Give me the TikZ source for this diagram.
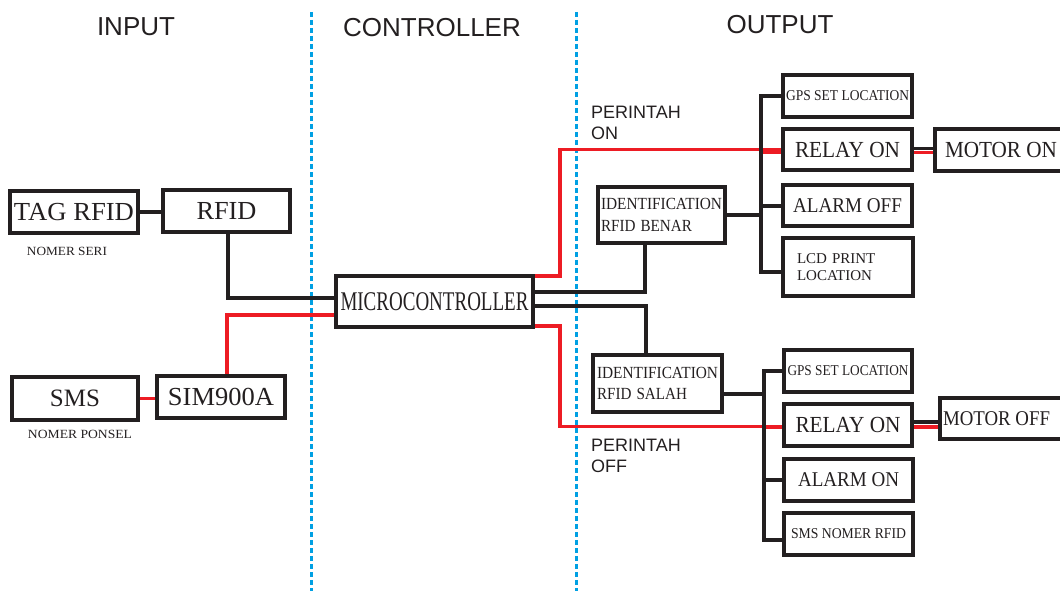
\documentclass[tikz,border=0pt]{standalone}
\usepackage{fontspec}
\setmainfont{Liberation Serif}
\setsansfont{Liberation Sans}
\usetikzlibrary{calc}

\definecolor{ink}{HTML}{231F20}
\definecolor{wirered}{HTML}{ED1C24}
\definecolor{divider}{HTML}{00A0E3}

% horizontally squeeze a label to a given width (pt), keeping its height
\newcommand{\sq}[2]{\resizebox{#1pt}{\height}{#2}}
\newcommand{\fs}[1]{\fontsize{#1}{#1}\selectfont}

\begin{document}
\begin{tikzpicture}[x=1pt,y=-1pt,
  blk/.style={draw=ink, line width=4pt, inner sep=0pt, text=ink, font=\fs{26}},
  wire/.style={draw=ink, line width=4pt},
  hot/.style={draw=wirered, line width=3.5pt},
  divline/.style={draw=divider, line width=3pt, dash pattern=on 5pt off 3pt},
  head/.style={font=\sffamily\fs{26}, text=ink, inner sep=0pt},
  note/.style={font=\fs{12.5}, text=ink, inner sep=0pt},
  cmd/.style={font=\sffamily\fontsize{18}{21}\selectfont, text=ink, align=left, inner sep=0pt, anchor=west},
]
\useasboundingbox (0,0) rectangle (1060,591);
\clip (0,0) rectangle (1060,591);

% section dividers
\draw[divline] (311,12) -- (311,591);
\draw[divline] (576,12) -- (576,591);

% section headings
\node[head] (hin)  at (136,27) {INPUT};
\node[head] (hctl) at (432,28) {CONTROLLER};
\node[head] (hout) at (780,25) {OUTPUT};

% input side
\node[blk, minimum width=128pt, minimum height=42pt] (tag)  at (74,212)   {\sq{120}{TAG RFID}};
\node[blk, minimum width=127pt, minimum height=42pt] (rfid) at (226.5,211) {\sq{60}{RFID}};
\node[blk, minimum width=126pt, minimum height=43pt, font=\fs{25}] (sms) at (75,398.5) {\sq{50}{SMS}};
\node[blk, minimum width=128pt, minimum height=42pt] (sim)  at (221,397)   {\sq{106}{SIM900A}};
\node[note] (nseri)   at (67,251) {\sq{80}{NOMER SERI}};
\node[note] (nponsel) at (80,434) {\sq{104}{NOMER PONSEL}};

% controller
\node[blk, minimum width=197pt, minimum height=51pt, font=\fs{27}] (micro) at (434.5,301.5) {\sq{188}{MICROCONTROLLER}};

% identification blocks
\node[blk, font=\fontsize{17}{22}\selectfont, align=left, text width=121pt, inner xsep=3pt,
      minimum height=56pt] (benar) at (661.5,215)
      {\sq{121}{IDENTIFICATION}\\\sq{91}{RFID BENAR}};
\node[blk, font=\fontsize{17}{21}\selectfont, align=left, text width=121pt, inner xsep=4pt,
      minimum height=57pt] (salah) at (657.5,383.5)
      {\sq{121}{IDENTIFICATION}\\\sq{90}{RFID SALAH}};

% outputs, command ON
\node[blk, minimum width=129pt, minimum height=42pt, font=\fs{15}] (gps1)   at (847.5,96)    {\sq{123}{GPS SET LOCATION}};
\node[blk, minimum width=129pt, minimum height=41pt, font=\fs{23}] (relay1) at (847.5,149.5) {\sq{105}{RELAY ON}};
\node[blk, minimum width=140pt, minimum height=42pt, font=\fs{23}] (motor1) at (1005,150)    {\makebox[120pt][l]{\sq{112}{MOTOR ON}}};
\node[blk, minimum width=129pt, minimum height=41pt, font=\fs{21}] (alarm1) at (847.5,205.5) {\sq{109}{ALARM OFF}};
\node[blk, font=\fontsize{15}{17}\selectfont, align=left, text width=102pt, inner xsep=14pt,
      minimum height=58pt] (lcd) at (848,267) {LCD PRINT\\LOCATION};

% outputs, command OFF
\node[blk, minimum width=128pt, minimum height=42pt, font=\fs{15}] (gps2)   at (848,371)    {\sq{121}{GPS SET LOCATION}};
\node[blk, minimum width=128pt, minimum height=42pt, font=\fs{23}] (relay2) at (848,425)    {\sq{105}{RELAY ON}};
\node[blk, minimum width=135pt, minimum height=41pt, font=\fs{21}] (motor2) at (1007.5,418.5) {\makebox[129pt][l]{\sq{107}{MOTOR OFF}}};
\node[blk, minimum width=129pt, minimum height=42pt, font=\fs{21}] (alarm2) at (848.5,480)  {\sq{101}{ALARM ON}};
\node[blk, minimum width=129pt, minimum height=42pt, font=\fs{15}] (smsr)   at (848.5,534)  {\sq{115}{SMS NOMER RFID}};

% command labels
\node[cmd] (pon)  at (591,122.5) {PERINTAH\\ON};
\node[cmd] (poff) at (591,456)   {PERINTAH\\OFF};

% input wiring
\draw[wire] (tag.east) -- (tag.east -| rfid.west);
\draw[wire] ($(rfid.south)+(1.5,0)$) |- ($(micro.west)+(0,-3.5)$);
\draw[hot]  ($(sim.north)+(6,0)$) |- ($(micro.west)+(0,13.5)$);
\draw[hot]  (sms.east) -- (sms.east -| sim.west);

% command lines from the controller
\draw[hot] ($(micro.north east)+(0,2)$) -- ++(25,0) |- (relay1.west);
\draw[hot] ($(micro.south east)+(0,-3)$) -- ++(25,0) |- ($(relay2.west)+(0,1.5)$);

% controller to identification blocks
\draw[wire] ($(micro.east)+(0,-9.5)$) -| ($(benar.south)+(-16.5,0)$);
\draw[wire] ($(micro.east)+(0,4.5)$) -| ($(salah.north)+(-11.5,0)$);

% branch for a correct tag
\coordinate (t1) at ($(gps1.west)+(-20,0)$);
\draw[wire] (gps1.west) -- (t1) |- ($(lcd.west)+(0,5)$);
\draw[wire] (alarm1.west) -- (alarm1.west -| t1);
\draw[wire] (benar.east) -- (benar.east -| t1);
\draw[hot, line width=4.5pt] ($(relay1.west -| t1)+(2,2)$) -- ($(relay1.west)+(0,2)$);
\draw[wire, line width=3.5pt] ($(relay1.east)+(0,-1)$) -- ($(relay1.east -| motor1.west)+(0,-1)$);
\draw[hot] ($(relay1.east)+(0,3)$) -- ($(relay1.east -| motor1.west)+(0,3)$);

% branch for a wrong tag
\coordinate (t2) at ($(gps2.west)+(-18,0)$);
\coordinate (s2) at ($(salah.east)+(0,10)$);
\draw[wire] (gps2.west) -- (t2) |- ($(smsr.west)+(0,6)$);
\draw[wire] (alarm2.west) -- (alarm2.west -| t2);
\draw[wire] (s2) -- (s2 -| t2);
\draw[hot, line width=4.5pt] ($(relay2.west -| t2)+(2,2)$) -- ($(relay2.west)+(0,2)$);
\draw[wire, line width=3.5pt] ($(relay2.east)+(0,-3)$) -- ($(relay2.east -| motor2.west)+(0,-3)$);
\draw[hot] ($(relay2.east)+(0,2)$) -- ($(relay2.east -| motor2.west)+(0,2)$);
\end{tikzpicture}
\end{document}
